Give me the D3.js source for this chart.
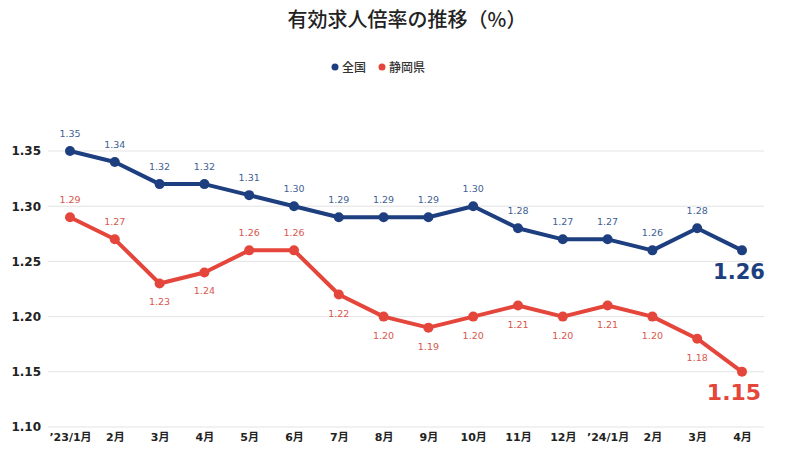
<!DOCTYPE html>
<html><head><meta charset="utf-8">
<script src="https://cdn.jsdelivr.net/npm/d3@7"></script>
<style>body{margin:0;background:#fff;}svg{display:block;}</style>
</head><body>
<script>
const categories = ["’23/1月","2月","3月","4月","5月","6月","7月","8月","9月","10月","11月","12月","’24/1月","2月","3月","4月"];
const zenkoku = [1.35,1.34,1.32,1.32,1.31,1.30,1.29,1.29,1.29,1.30,1.28,1.27,1.27,1.26,1.28,1.26];
const shizuoka = [1.29,1.27,1.23,1.24,1.26,1.26,1.22,1.20,1.19,1.20,1.21,1.20,1.21,1.20,1.18,1.15];
const yTicks = [1.10,1.15,1.20,1.25,1.30,1.35];
const shizuokaAbove = [true,true,false,false,true,true,false,false,false,false,false,false,false,false,false,false];
const seriesNames = ["全国","静岡県"];

const W=800,H=476;
const blue="#1d3f80", red="#e5463b", blueLbl="#3f5f93", redLbl="#d9574c";
const svg=d3.select("body").append("svg").attr("width",W).attr("height",H);
const font="'DejaVu Sans', Verdana, sans-serif";
const cjk="'Noto Sans CJK JP', sans-serif";

const x=d3.scalePoint().domain(d3.range(categories.length)).range([70,742]);
const y=d3.scaleLinear().domain([1.10,1.35]).range([427,151]);

// gridlines
svg.append("g").selectAll("line").data(yTicks).join("line")
  .attr("x1",48).attr("x2",764).attr("y1",d=>y(d)).attr("y2",d=>y(d))
  .attr("stroke","#e3e3e3").attr("stroke-width",1);

// y axis labels
const yAxis=d3.axisLeft(y).tickValues(yTicks).tickFormat(d3.format(".2f")).tickSize(0).tickPadding(0);
const gy=svg.append("g").attr("transform","translate(41,0)").call(yAxis);
gy.select(".domain").remove();
gy.selectAll("text").attr("font-family",font).attr("font-weight","bold").attr("font-size",12).attr("fill","#222");

// x axis labels
const xAxis=d3.axisBottom(x).tickFormat(i=>categories[i]).tickSize(0).tickPadding(0);
const gx=svg.append("g").attr("transform","translate(0,433)").call(xAxis);
gx.select(".domain").remove();
gx.selectAll("text").attr("font-family",font+","+cjk).attr("font-weight","bold").attr("font-size",11).attr("fill","#222");

// title
svg.append("text").attr("x",407).attr("y",27).attr("text-anchor","middle")
  .attr("font-family",cjk).attr("font-size",20).attr("font-weight","500").attr("fill","#222")
  .text("有効求人倍率の推移（%）");

// legend
const leg=svg.append("g");
[[335,blue,seriesNames[0]],[382,red,seriesNames[1]]].forEach(([lx,c,t])=>{
  leg.append("circle").attr("cx",lx).attr("cy",67).attr("r",3.5).attr("fill",c);
  leg.append("text").attr("x",lx+7).attr("y",71.5).attr("font-family",cjk).attr("font-size",12).attr("font-weight","500").attr("fill","#333").text(t);
});

const line=d3.line().x((d,i)=>x(i)).y(d=>y(d));
function drawSeries(data,c){
  svg.append("path").datum(data).attr("d",line).attr("fill","none").attr("stroke",c).attr("stroke-width",4).attr("stroke-linejoin","round");
  svg.append("g").selectAll("circle").data(data).join("circle")
    .attr("cx",(d,i)=>x(i)).attr("cy",d=>y(d)).attr("r",5).attr("fill",c);
}
drawSeries(zenkoku,blue);
drawSeries(shizuoka,red);

const last=categories.length-1;
// value labels
svg.append("g").selectAll("text").data(zenkoku.slice(0,last)).join("text")
  .attr("x",(d,i)=>x(i)).attr("y",d=>y(d)-14).attr("text-anchor","middle")
  .attr("font-family",font).attr("font-size",9.5).attr("fill",blueLbl).text(d=>d.toFixed(2));
svg.append("g").selectAll("text").data(shizuoka.slice(0,last)).join("text")
  .attr("x",(d,i)=>x(i)).attr("y",(d,i)=>shizuokaAbove[i]?y(d)-14:y(d)+22).attr("text-anchor","middle")
  .attr("font-family",font).attr("font-size",9.5).attr("fill",redLbl).text(d=>d.toFixed(2));

// big end labels
svg.append("text").attr("x",x(last)-3).attr("y",y(zenkoku[last])+29).attr("text-anchor","middle")
  .attr("font-family",font).attr("font-weight","bold").attr("font-size",21).attr("fill",blue).text(zenkoku[last].toFixed(2));
svg.append("text").attr("x",x(last)-8).attr("y",y(shizuoka[last])+28).attr("text-anchor","middle")
  .attr("font-family",font).attr("font-weight","bold").attr("font-size",22).attr("fill",red).text(shizuoka[last].toFixed(2));
</script>
</body></html>
